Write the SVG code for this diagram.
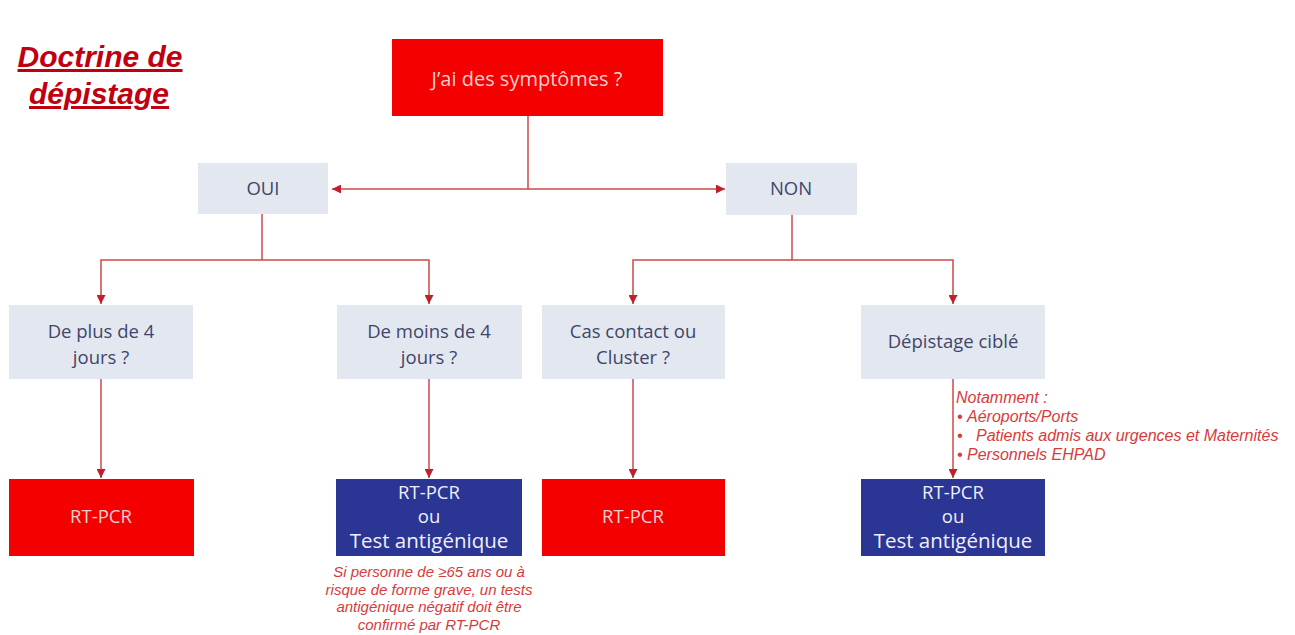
<svg xmlns="http://www.w3.org/2000/svg" width="1295" height="635" viewBox="0 0 1295 635">
<style>
.title{font-family:"Liberation Sans",Arial,sans-serif;font-weight:bold;font-style:italic;font-size:30px;fill:#C00010;text-decoration:underline;text-anchor:middle}
.red{fill:#F40000}
.grey{fill:#E3E8F0}
.blue{fill:#2B3593}
.t{font-family:"Open Sans","Liberation Sans",sans-serif;text-anchor:middle}
.tr{font-size:18.5px;fill:#F7CFCF}
.tg{font-size:18.5px;fill:#41456B}
.tb{font-size:18.5px;fill:#EEF0FA}
.note{font-family:"Liberation Sans",Arial,sans-serif;font-style:italic;font-size:15px;fill:#D83A3A}
.ln{fill:none;stroke:#CC4A4A;stroke-width:1.5}
</style>
<defs>
<marker id="ah" viewBox="0 0 10 10" refX="10" refY="5" markerWidth="9" markerHeight="9" markerUnits="userSpaceOnUse" orient="auto">
<path d="M0,0 L10,5 L0,10 z" fill="#C0202A"/>
</marker>
</defs>
<rect width="1295" height="635" fill="#FFFFFF"/>
<g id="title">
<text class="title" x="100" y="67">Doctrine de</text>
<text class="title" x="99" y="104">dépistage</text>
</g>
<g id="connectors">
<path class="ln" d="M528,116 V189"/>
<path class="ln" d="M528,189 H332" marker-end="url(#ah)"/>
<path class="ln" d="M528,189 H725" marker-end="url(#ah)"/>
<path class="ln" d="M262,214 V260"/>
<path class="ln" d="M262,260 H101 V304" marker-end="url(#ah)"/>
<path class="ln" d="M262,260 H429 V304" marker-end="url(#ah)"/>
<path class="ln" d="M792,215 V260"/>
<path class="ln" d="M792,260 H633 V304" marker-end="url(#ah)"/>
<path class="ln" d="M792,260 H953 V304" marker-end="url(#ah)"/>
<path class="ln" d="M101,379 V478" marker-end="url(#ah)"/>
<path class="ln" d="M429,379 V478" marker-end="url(#ah)"/>
<path class="ln" d="M633,379 V478" marker-end="url(#ah)"/>
<path class="ln" d="M953,379 V478" marker-end="url(#ah)"/>
</g>
<g id="symptomes">
<rect class="red" x="392" y="39" width="271" height="77"/>
<text class="t tr" x="527" y="86" style="font-size:20px">J’ai des symptômes ?</text>
</g>
<g id="oui">
<rect class="grey" x="198" y="163" width="130" height="51"/>
<text class="t tg" x="263" y="195">OUI</text>
</g>
<g id="non">
<rect class="grey" x="726" y="163" width="131" height="52"/>
<text class="t tg" x="791" y="195">NON</text>
</g>
<g id="plus4">
<rect class="grey" x="9" y="305" width="184" height="74"/>
<text class="t tg" x="101" y="338">De plus de 4</text>
<text class="t tg" x="101" y="364">jours ?</text>
</g>
<g id="moins4">
<rect class="grey" x="337" y="305" width="185" height="74"/>
<text class="t tg" x="429" y="338">De moins de 4</text>
<text class="t tg" x="429" y="364">jours ?</text>
</g>
<g id="contact">
<rect class="grey" x="542" y="305" width="183" height="74"/>
<text class="t tg" x="633" y="338">Cas contact ou</text>
<text class="t tg" x="633" y="364">Cluster ?</text>
</g>
<g id="cible">
<rect class="grey" x="861" y="305" width="184" height="74"/>
<text class="t tg" x="953" y="348">Dépistage ciblé</text>
</g>
<g id="pcr1">
<rect class="red" x="9" y="479" width="185" height="77"/>
<text class="t tr" x="101" y="523">RT-PCR</text>
</g>
<g id="pcr-ag1">
<rect class="blue" x="336" y="479" width="186" height="77"/>
<text class="t tb" x="429" y="499">RT-PCR</text>
<text class="t tb" x="429" y="523">ou</text>
<text class="t tb" x="429" y="548" style="font-size:20.5px">Test antigénique</text>
</g>
<g id="pcr2">
<rect class="red" x="542" y="479" width="183" height="77"/>
<text class="t tr" x="633" y="523">RT-PCR</text>
</g>
<g id="pcr-ag2">
<rect class="blue" x="861" y="479" width="184" height="77"/>
<text class="t tb" x="953" y="499">RT-PCR</text>
<text class="t tb" x="953" y="523">ou</text>
<text class="t tb" x="953" y="548" style="font-size:20.5px">Test antigénique</text>
</g>
<g id="note-ag">
<text class="note" text-anchor="middle" x="429" y="577">Si personne de ≥65 ans ou à</text>
<text class="note" text-anchor="middle" x="429" y="595">risque de forme grave, un tests</text>
<text class="note" text-anchor="middle" x="429" y="612">antigénique négatif doit être</text>
<text class="note" text-anchor="middle" x="429" y="630">confirmé par RT-PCR</text>
</g>
<g id="note-cible" style="font-size:16px">
<text class="note" x="956" y="403" style="font-size:16px">Notamment :</text>
<text class="note" y="422" style="font-size:16px"><tspan x="957">•</tspan><tspan x="967">Aéroports/Ports</tspan></text>
<text class="note" y="441" style="font-size:16px"><tspan x="957">•</tspan><tspan x="976">Patients admis aux urgences et Maternités</tspan></text>
<text class="note" y="460" style="font-size:16px"><tspan x="957">•</tspan><tspan x="967">Personnels EHPAD</tspan></text>
</g>
</svg>
